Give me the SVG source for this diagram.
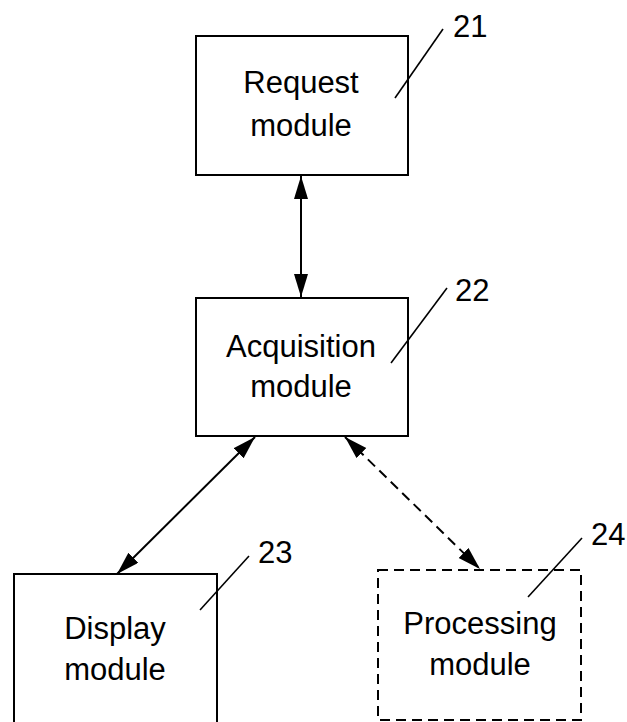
<svg xmlns="http://www.w3.org/2000/svg" width="627" height="722" viewBox="0 0 627 722">
<style>
.box{fill:#fff;stroke:#000;stroke-width:2}
.dash{stroke-dasharray:10 6}
.t{font-family:"Liberation Sans",Arial,sans-serif;font-size:31px;fill:#000}
.c{text-anchor:middle}
.ln{stroke:#000;stroke-width:2;fill:none}
.ld{stroke:#000;stroke-width:1.6;fill:none}
</style>
<defs>
<marker id="ah" markerUnits="userSpaceOnUse" markerWidth="24" markerHeight="15" refX="23" refY="7" orient="auto-start-reverse">
<path d="M0,0 L23,7 L0,14 z" fill="#000"/>
</marker>
</defs>
<rect width="627" height="722" fill="#fff"/>
<g id="connectors">
<line class="ln" x1="301" y1="176" x2="301" y2="297" marker-start="url(#ah)" marker-end="url(#ah)"/>
<line class="ln" x1="117" y1="574" x2="255" y2="437" marker-start="url(#ah)" marker-end="url(#ah)"/>
<line class="ln dash" x1="345" y1="437" x2="480" y2="569" marker-start="url(#ah)" marker-end="url(#ah)"/>
</g>
<g id="n21">
<rect class="box" x="196" y="36" width="212" height="139"/>
<text class="t c" x="301" y="93">Request</text>
<text class="t c" x="301" y="136">module</text>
<line class="ld" x1="395" y1="98" x2="443" y2="29"/>
<text class="t" x="453" y="37">21</text>
</g>
<g id="n22">
<rect class="box" x="196" y="298" width="212" height="138"/>
<text class="t c" x="301" y="357">Acquisition</text>
<text class="t c" x="301" y="397">module</text>
<line class="ld" x1="391" y1="363" x2="447" y2="288"/>
<text class="t" x="455" y="301">22</text>
</g>
<g id="n23">
<rect class="box" x="14" y="574" width="203" height="170"/>
<text class="t c" x="115" y="639">Display</text>
<text class="t c" x="115" y="680">module</text>
<line class="ld" x1="200" y1="610" x2="249" y2="556"/>
<text class="t" x="258" y="563">23</text>
</g>
<g id="n24">
<rect class="box dash" x="378" y="570" width="203" height="150"/>
<text class="t c" x="480" y="634">Processing</text>
<text class="t c" x="480" y="675">module</text>
<line class="ld" x1="528" y1="597" x2="582" y2="538"/>
<text class="t" x="591" y="545">24</text>
</g>
</svg>
